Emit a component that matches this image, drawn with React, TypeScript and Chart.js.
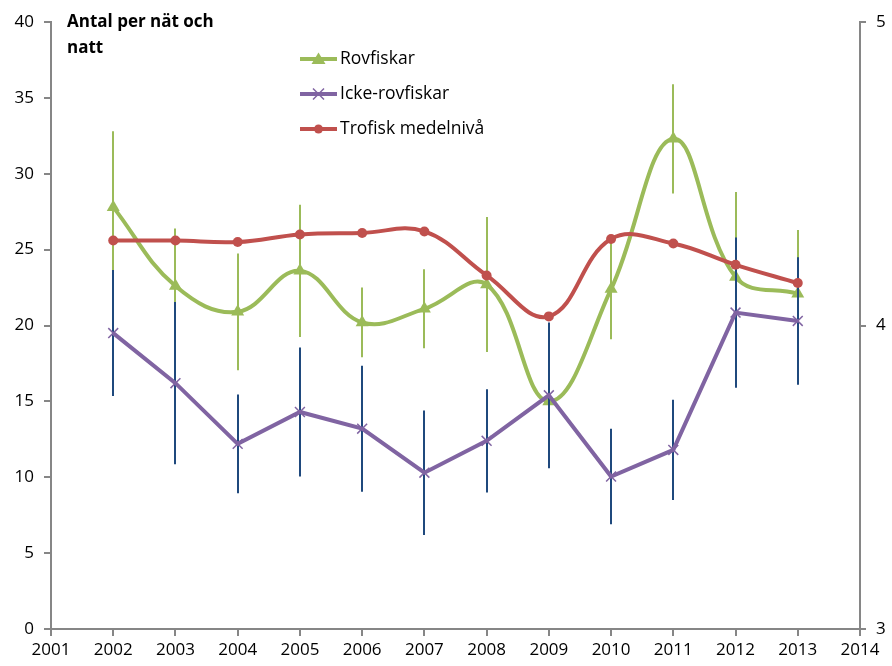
import React, { useEffect, useRef } from "react";
import { Chart, registerables } from "chart.js";

Chart.register(...registerables);

const years = [2002, 2003, 2004, 2005, 2006, 2007, 2008, 2009, 2010, 2011, 2012, 2013];
const rovfiskar = [27.8, 22.6, 20.9, 23.6, 20.2, 21.1, 22.7, 15.0, 22.4, 32.3, 23.2, 22.1];
const rovfiskarErr = [5.0, 3.8, 3.85, 4.35, 2.3, 2.6, 4.45, 4.0, 3.3, 3.6, 5.6, 4.2];
const ickeRovfiskar = [19.5, 16.2, 12.2, 14.3, 13.2, 10.3, 12.4, 15.4, 10.05, 11.8, 20.85, 20.3];
const ickeRovfiskarErr = [4.15, 5.35, 3.25, 4.25, 4.15, 4.1, 3.4, 4.8, 3.15, 3.3, 4.95, 4.2];
const trofisk = [4.28, 4.28, 4.275, 4.3, 4.305, 4.31, 4.165, 4.03, 4.285, 4.27, 4.2, 4.14];

const seriesNames = ["Rovfiskar", "Icke-rovfiskar", "Trofisk medelnivå"];
const titleLines = ["Antal per nät och", "natt"];

const GREEN = "#9BBB59";
const PURPLE = "#8064A2";
const RED = "#C0504D";
const BLUE = "#1F497D";
const AXIS = "#868686";
const FONT = "'Open Sans', sans-serif";

export default function App() {
  const ref = useRef<HTMLCanvasElement | null>(null);

  useEffect(() => {
    const canvas = ref.current;
    if (!canvas) return;

    const errorPlugin = {
      id: "errorBars",
      beforeDatasetDraw(chart: any, args: any) {
        const idx = args.index;
        let means: number[] | null = null;
        let errs: number[] | null = null;
        let color = "";
        if (idx === 0) { means = rovfiskar; errs = rovfiskarErr; color = GREEN; }
        if (idx === 1) { means = ickeRovfiskar; errs = ickeRovfiskarErr; color = BLUE; }
        if (!means || !errs) return;
        const ctx = chart.ctx;
        const xs = chart.scales.x;
        const ys = chart.scales.y;
        ctx.save();
        ctx.strokeStyle = color;
        ctx.lineWidth = 2;
        for (let i = 0; i < years.length; i++) {
          const x = Math.round(xs.getPixelForValue(years[i]));
          const y1 = ys.getPixelForValue(means[i] - errs[i]);
          const y2 = ys.getPixelForValue(means[i] + errs[i]);
          ctx.beginPath();
          ctx.moveTo(x, y1);
          ctx.lineTo(x, y2);
          ctx.stroke();
        }
        ctx.restore();
      },
    };

    const overlayPlugin = {
      id: "overlay",
      afterDraw(chart: any) {
        const ctx = chart.ctx;
        ctx.save();
        ctx.fillStyle = "#000";
        ctx.font = `bold 17px ${FONT}`;
        ctx.textAlign = "left";
        ctx.textBaseline = "alphabetic";
        ctx.fillText(titleLines[0], 67, 27);
        ctx.fillText(titleLines[1], 67, 53);
        const items = [
          { name: seriesNames[0], color: GREEN, y: 59, marker: "tri" },
          { name: seriesNames[1], color: PURPLE, y: 94, marker: "cross" },
          { name: seriesNames[2], color: RED, y: 129, marker: "circle" },
        ];
        for (const it of items) {
          ctx.strokeStyle = it.color;
          ctx.lineWidth = 4;
          ctx.lineCap = "butt";
          ctx.beginPath();
          ctx.moveTo(300, it.y);
          ctx.lineTo(337, it.y);
          ctx.stroke();
          const cx = 318.5;
          if (it.marker === "tri") {
            ctx.fillStyle = it.color;
            ctx.beginPath();
            ctx.moveTo(cx, it.y - 6.5);
            ctx.lineTo(cx + 7, it.y + 5);
            ctx.lineTo(cx - 7, it.y + 5);
            ctx.closePath();
            ctx.fill();
          } else if (it.marker === "cross") {
            ctx.lineWidth = 1.5;
            ctx.beginPath();
            ctx.moveTo(cx - 5.5, it.y - 5.5);
            ctx.lineTo(cx + 5.5, it.y + 5.5);
            ctx.moveTo(cx + 5.5, it.y - 5.5);
            ctx.lineTo(cx - 5.5, it.y + 5.5);
            ctx.stroke();
          } else {
            ctx.fillStyle = it.color;
            ctx.beginPath();
            ctx.arc(cx, it.y, 4.5, 0, Math.PI * 2);
            ctx.fill();
          }
          ctx.fillStyle = "#000";
          ctx.font = `17.5px ${FONT}`;
          ctx.textBaseline = "middle";
          ctx.fillText(it.name, 340, it.y + 0.5);
        }
        ctx.restore();
      },
    };

    const chart = new Chart(canvas, {
      type: "line",
      data: {
        datasets: [
          {
            label: seriesNames[0],
            data: years.map((x, i) => ({ x, y: rovfiskar[i] })),
            borderColor: GREEN,
            backgroundColor: GREEN,
            borderWidth: 4,
            tension: 0.4,
            pointStyle: "triangle",
            pointRadius: 7.5,
            pointBorderWidth: 0,
            yAxisID: "y",
            order: 2,
          },
          {
            label: seriesNames[1],
            data: years.map((x, i) => ({ x, y: ickeRovfiskar[i] })),
            borderColor: PURPLE,
            backgroundColor: PURPLE,
            borderWidth: 4,
            tension: 0,
            pointStyle: "crossRot",
            pointRadius: 7,
            pointBorderWidth: 1.5,
            pointBorderColor: PURPLE,
            yAxisID: "y",
            order: 1,
          },
          {
            label: seriesNames[2],
            data: years.map((x, i) => ({ x, y: trofisk[i] })),
            borderColor: RED,
            backgroundColor: RED,
            borderWidth: 4,
            tension: 0.4,
            pointStyle: "circle",
            pointRadius: 5,
            pointBorderWidth: 0,
            yAxisID: "y1",
            order: 0,
          },
        ],
      },
      options: {
        responsive: false,
        animation: false,
        events: [],
        layout: { padding: { top: 22, left: 0, right: 0, bottom: 0 } },
        plugins: { legend: { display: false }, tooltip: { enabled: false } },
        scales: {
          x: {
            type: "linear",
            min: 2001,
            max: 2014,
            afterFit: (s: any) => { s.height = 37; },
            ticks: {
              stepSize: 1,
              color: "#000",
              font: { family: FONT, size: 17 },
              padding: 4,
              maxRotation: 0,
              autoSkip: false,
              callback: (v: any) => String(v),
            },
            grid: { drawOnChartArea: false, drawTicks: true, tickLength: 7, color: AXIS, lineWidth: 2 },
            border: { color: AXIS, width: 2 },
          },
          y: {
            type: "linear",
            position: "left",
            min: 0,
            max: 40,
            afterFit: (s: any) => { s.width = 51; },
            ticks: {
              stepSize: 5,
              color: "#000",
              font: { family: FONT, size: 17 },
              padding: 10,
            },
            grid: { drawOnChartArea: false, drawTicks: true, tickLength: 7, color: AXIS, lineWidth: 2 },
            border: { color: AXIS, width: 2 },
          },
          y1: {
            type: "linear",
            position: "right",
            min: 3,
            max: 5,
            afterFit: (s: any) => { s.width = 32; },
            ticks: {
              stepSize: 1,
              color: "#000",
              font: { family: FONT, size: 17 },
              padding: 10,
            },
            grid: { drawOnChartArea: false, drawTicks: true, tickLength: 6, color: AXIS, lineWidth: 2 },
            border: { color: AXIS, width: 2 },
          },
        },
      },
      plugins: [errorPlugin, overlayPlugin],
    } as any);

    return () => chart.destroy();
  }, []);

  return (
    <div style={{ position: "absolute", left: 0, top: 0, width: 892, height: 666, background: "#fff" }}>
      <canvas ref={ref} width={892} height={666} style={{ display: "block" }} />
    </div>
  );
}
